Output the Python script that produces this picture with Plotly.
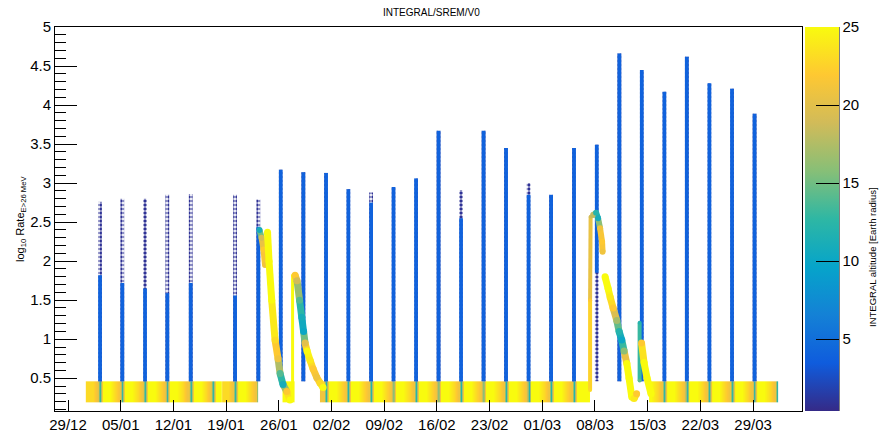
import datetime as dt
import plotly.graph_objects as go
from plotly.colors import sample_colorscale

# ---------------- data ----------------
BASE = dt.datetime(2003, 12, 29)          # first labelled tick "29/12"

# perigee passes with a rate spike (days after 29/12)
spike_day = [4.25, 7.21, 10.23, 13.19, 16.30, 22.19, 25.28, 28.26, 31.26, 34.28,
             37.24, 40.26, 43.24, 46.23, 49.22, 52.21, 55.20, 58.19, 61.18, 64.17,
             67.22, 70.24, 73.24, 76.22, 79.22, 82.20, 85.20, 88.20, 91.20]
spike_peak = [2.76, 2.80, 2.80, 2.85, 2.86, 2.85, 2.79, 3.17, 3.14, 3.13,
              2.92, 2.88, 2.95, 3.06, 3.67, 2.91, 3.67, 3.45, 3.00, 2.85,
              3.45, 3.49, 4.66, 4.45, 4.17, 4.62, 4.28, 4.21, 3.89]
spike_solid_lo = [0.46, 0.46, 0.46, 0.46, 0.46, 0.46, 0.46, 0.46, 0.46, 0.46,
                  0.46, 0.46, 0.46, 0.46, 0.46, 0.46, 0.46, 0.46, 0.46, 0.46,
                  0.46, 1.85, 0.46, 0.46, 0.46, 0.46, 0.46, 0.46, 0.46]
spike_solid_hi = [1.82, 1.72, 1.65, 1.59, 1.72, 1.56, 2.44, 3.17, 3.14, 3.13,
                  2.92, 2.75, 2.95, 3.06, 3.67, 2.55, 3.67, 3.45, 2.85, 2.85,
                  3.45, 3.49, 4.66, 4.45, 4.17, 4.62, 4.28, 4.21, 3.89]
spike_alt = 4.0          # altitude colour of the dense part of the spikes
spike_dot_alt = 0.9      # altitude colour of the sparse dots

# quiet-time band (high altitude)
BAND_LO, BAND_HI = 0.19, 0.46
band_start = [2.66, 20.73, 28.85, 33.60, 77.30]
band_end = [20.19, 25.24, 29.95, 69.08, 94.33]
band_perigee_day = [1.25, 4.25, 7.21, 10.23, 13.19, 16.30, 19.25, 22.19, 25.28, 28.26,
                    31.26, 34.28, 37.24, 40.26, 43.24, 46.23, 49.22, 52.21, 55.20, 58.19,
                    61.18, 64.17, 67.22, 70.24, 73.24, 76.22, 79.22, 82.20, 85.20, 88.20,
                    91.20, 94.20]
orbit_phase = [-0.30, -0.12, 0.00, 0.12, 0.35, 1.30, 2.00, 2.60]
orbit_alt = [21, 16, 12, 17, 25, 25, 23, 21]

# solar-particle episodes: (day, log10 rate, altitude)
curves = {
    "A1": ([25.44, 25.71, 25.97, 26.17], [2.40, 2.30, 2.15, 1.95], [11, 19, 22, 21], 6),
    "A": ([26.50, 26.70, 27.06, 27.50, 27.90, 28.17, 28.56, 29.06, 29.49],
          [2.37, 2.00, 1.50, 0.99, 0.75, 0.56, 0.42, 0.33, 0.22],
          [25, 25, 25, 23, 21, 14, 11, 22, 25], 7),
    "Bv": ([29.83, 29.83], [0.22, 1.82], [25, 25], 3),
    "B": ([30.16, 30.42, 30.76, 31.05, 31.29, 31.49, 31.75, 32.15, 32.55, 33.04, 33.48, 33.88],
          [1.82, 1.75, 1.50, 1.28, 1.10, 0.95, 0.85, 0.73, 0.62, 0.51, 0.44, 0.38],
          [22, 19, 14, 11, 10, 20, 25, 24, 22, 21, 23, 25], 7),
    "E1": ([69.35, 69.35, 69.42], [0.35, 1.50, 2.57], [23, 22, 19], 4),
    "E2": ([69.75, 70.15, 70.41, 70.68, 70.94, 71.01],
           [2.59, 2.62, 2.55, 2.42, 2.25, 2.12], [18, 12, 11, 21, 22, 21], 6),
    "E3": ([71.34, 71.74, 72.01, 72.41, 72.90, 73.20, 73.56, 73.87, 74.23, 74.53, 74.89, 75.19, 75.53],
           [1.80, 1.65, 1.54, 1.40, 1.24, 1.10, 0.99, 0.85, 0.69, 0.50, 0.26, 0.24, 0.30],
           [25, 25, 24, 22, 17, 12, 10, 16, 25, 25, 25, 24, 22], 7),
    "E4v": ([75.93, 75.93], [0.47, 1.21], [14, 12], 4),
    "E4": ([76.19, 76.52, 76.92, 77.45], [0.95, 0.70, 0.50, 0.30], [22, 25, 25, 25], 7),
}

# ---------------- styling ----------------
ALT_MIN, ALT_MAX = 0.4, 25.0
kb_r = [0.2082, 0.0592, 0.0780, 0.0232, 0.1802, 0.5301, 0.8186, 0.9956, 0.9764]
kb_g = [0.1664, 0.3599, 0.5041, 0.6419, 0.7178, 0.7492, 0.7328, 0.7862, 0.9832]
kb_b = [0.5293, 0.8684, 0.8385, 0.7914, 0.6425, 0.4662, 0.3499, 0.1968, 0.0539]
kbird = [[i / 8, "rgb(%d,%d,%d)" % (round(r * 255), round(g * 255), round(b * 255))]
         for i, (r, g, b) in enumerate(zip(kb_r, kb_g, kb_b))]
FONT = "Liberation Sans, Arial, sans-serif"
DAY_MS = 86400000.0


def D(d):
    return BASE + dt.timedelta(days=d)


def alt_color(a):
    return sample_colorscale(kbird, [(a - ALT_MIN) / (ALT_MAX - ALT_MIN)])[0]


fig = go.Figure()

# band: one smooth heat strip per segment
mid = 0.5 * (BAND_LO + BAND_HI)
for s, e in zip(band_start, band_end):
    pts = []
    for p in band_perigee_day:
        for ph, a in zip(orbit_phase, orbit_alt):
            t = p + ph
            if s < t < e:
                pts.append((t, a))
    pts.sort()
    if not pts:
        pts = [(s, 25), (e, 25)]
    pts = [(s, pts[0][1])] + pts + [(e, pts[-1][1])]
    xs = [D(t) for t, _ in pts]
    zs = [a for _, a in pts]
    fig.add_trace(go.Heatmap(x=xs, y=[BAND_LO, mid, BAND_HI], z=[zs, zs],
                             coloraxis="coloraxis", zsmooth="best", hoverinfo="skip"))

# spikes: sparse dotted part, then dense part on top
sx = [D(d) for d in spike_day]
W = 0.5 * DAY_MS
fig.add_trace(go.Bar(x=sx, base=[BAND_HI] * len(sx),
                     y=[p - BAND_HI for p in spike_peak], width=[W] * len(sx),
                     marker=dict(color=[spike_dot_alt] * len(sx), coloraxis="coloraxis",
                                 line_width=0,
                                 pattern=dict(shape=".", size=4, solidity=0.6, fillmode="replace")),
                     hoverinfo="skip"))
fig.add_trace(go.Bar(x=sx, base=spike_solid_lo,
                     y=[h - l for h, l in zip(spike_solid_hi, spike_solid_lo)], width=[W] * len(sx),
                     marker=dict(color=[spike_alt] * len(sx), coloraxis="coloraxis", line_width=0),
                     hoverinfo="skip"))

# episode curves: coloured segments + coloured points
for name, (t, v, a, w) in curves.items():
    for i in range(len(t) - 1):
        fig.add_trace(go.Scatter(x=[D(t[i]), D(t[i + 1])], y=[v[i], v[i + 1]], mode="lines",
                                 line=dict(color=alt_color(0.5 * (a[i] + a[i + 1])), width=w),
                                 hoverinfo="skip"))
    fig.add_trace(go.Scatter(x=[D(q) for q in t], y=v, mode="markers",
                             marker=dict(color=a, coloraxis="coloraxis", size=w, line_width=0),
                             hoverinfo="skip"))

# ---------------- layout ----------------
L, R, T, B = 55, 77, 27, 21
PW, PH = 879 - L - R, 432 - T - B


def px_x(px):
    return (px - L) / PW


def px_y(py):
    return (432 - B - py) / PH


fig.update_layout(
    width=879, height=432, margin=dict(l=L, r=R, t=T, b=B, pad=0, autoexpand=False),
    paper_bgcolor="white", plot_bgcolor="white", showlegend=False, barmode="overlay",
    font=dict(family=FONT, color="black", size=15),
    xaxis=dict(type="date", range=[D(-1.73), D(97.5)], tick0=D(0), dtick=7 * DAY_MS,
               tickformat="%d/%m", ticks="inside", ticklen=11, tickcolor="black",
               showline=True, linecolor="black", linewidth=1, mirror=True,
               showgrid=False, zeroline=False, tickfont=dict(size=15), automargin=False),
    yaxis=dict(range=[0.08, 5], tick0=0, dtick=0.5, ticks="inside", ticklen=22,
               tickcolor="black", showline=True, linecolor="black", linewidth=1, mirror=True,
               showgrid=False, zeroline=False, tickfont=dict(size=15), automargin=False,
               minor=dict(ticks="inside", ticklen=11, dtick=0.1, tickcolor="black", showgrid=False)),
    coloraxis=dict(colorscale=kbird, cmin=ALT_MIN, cmax=ALT_MAX,
                   colorbar=dict(thickness=34, thicknessmode="pixels", len=1, lenmode="fraction",
                                 x=px_x(805), xanchor="left", y=0.5, yanchor="middle",
                                 xpad=0, ypad=0, outlinewidth=0,
                                 tickvals=[5, 10, 15, 20, 25], ticks="inside", ticklen=23,
                                 tickcolor="black", tickwidth=1, tickfont=dict(size=15))),
    shapes=[dict(type="line", xref="paper", yref="paper", x0=px_x(839), x1=px_x(839),
                 y0=0, y1=1, line=dict(color="black", width=1))],
    annotations=[
        dict(text="INTEGRAL/SREM/V0", xref="paper", yref="paper", x=px_x(432), y=px_y(12),
             showarrow=False, xanchor="center", yanchor="middle", font=dict(size=10)),
        dict(text="log<sub>10</sub> Rate<sub>E&gt;26 MeV</sub>", xref="paper", yref="paper",
             x=px_x(21), y=px_y(219), showarrow=False, textangle=-90,
             xanchor="center", yanchor="middle", font=dict(size=11)),
        dict(text="INTEGRAL altitude [Earth radius]", xref="paper", yref="paper",
             x=px_x(872), y=px_y(257), showarrow=False, textangle=-90,
             xanchor="center", yanchor="middle", font=dict(size=9.5)),
    ],
)

fig.write_html("out.html", config={"displayModeBar": False},
               post_script="document.body.style.margin='0px';document.body.style.overflow='hidden';")
